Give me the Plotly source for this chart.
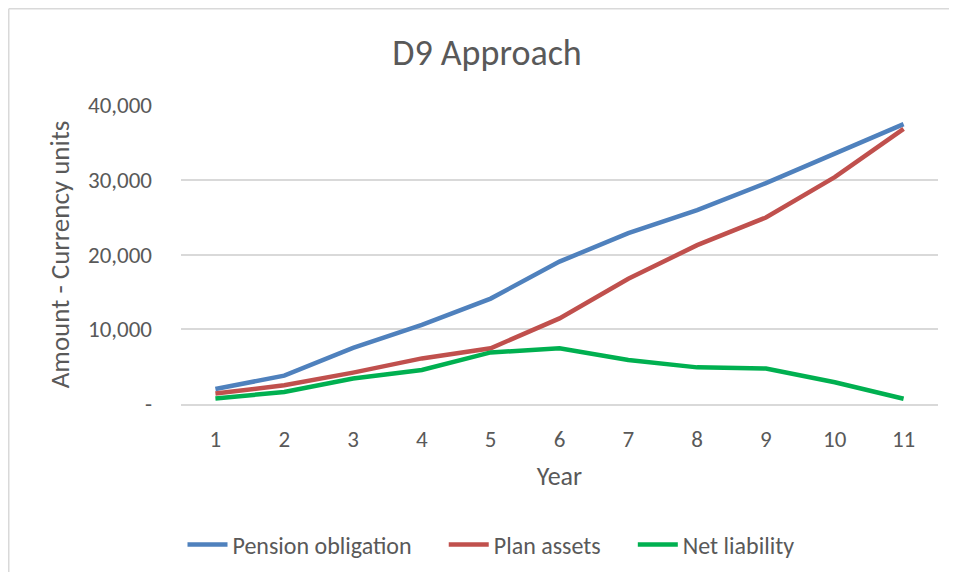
import plotly.graph_objects as go

# data
years = [1, 2, 3, 4, 5, 6, 7, 8, 9, 10, 11]
pension_obligation = [2000, 3800, 7500, 10600, 14100, 19050, 22850, 25950, 29550, 33550, 37450]
plan_assets = [1400, 2500, 4200, 6100, 7450, 11450, 16750, 21250, 24950, 30350, 36800]
net_liability = [750, 1600, 3400, 4550, 6900, 7450, 5900, 4900, 4750, 2900, 700]

y_ticks = [0, 10000, 20000, 30000, 40000]
y_tick_text = ["-", "10,000", "20,000", "30,000", "40,000"]

FONT = "Carlito, Calibri, Lato, sans-serif"
TEXT_COLOR = "#595959"
GRID_COLOR = "#d9d9d9"

# the page puts the figure 8px in from the top-left corner,
# so the figure is a bit smaller than the 957x580 window
W, H = 941, 564
L, R, T, B = 173, 11, 97, 168
plot_w = W - L - R
plot_h = H - T - B

fig = go.Figure()

NBSP = "\u00a0"
series = [
    ("Pension obligation" + NBSP * 5, pension_obligation, "#4f81bd"),
    ("Plan assets" + NBSP * 5, plan_assets, "#c0504d"),
    ("Net liability", net_liability, "#00b050"),
]
for name, values, color in series:
    fig.add_trace(go.Scatter(x=[str(y) for y in years], y=values, mode="lines", name=name,
                             line=dict(color=color, width=4.5)))

# thin grey frame of the chart: only top and left edges are visible
frame = dict(type="line", xref="paper", yref="paper", line=dict(color="#d9d9d9", width=1.5))
fig.add_shape(**frame, x0=(0.75 - L) / plot_w, x1=(W - L) / plot_w,
              y0=(H - 0.75 - B) / plot_h, y1=(H - 0.75 - B) / plot_h)
fig.add_shape(**frame, x0=(0.75 - L) / plot_w, x1=(0.75 - L) / plot_w,
              y0=(-B) / plot_h, y1=(H - 0.75 - B) / plot_h)

fig.update_layout(
    title=dict(text="D9 Approach", x=479 / W, xanchor="center", xref="container",
               y=1 - 44 / H, yanchor="middle", yref="container",
               font=dict(family=FONT, size=36, color=TEXT_COLOR)),
    width=W,
    height=H,
    margin=dict(l=L, r=R, t=T, b=B, pad=0),
    paper_bgcolor="white",
    plot_bgcolor="white",
    font=dict(family=FONT, color=TEXT_COLOR),
    showlegend=True,
    legend=dict(orientation="h", xref="container", x=483 / W, xanchor="center",
                yref="container", y=1 - 537 / H, yanchor="middle",
                font=dict(family=FONT, size=24, color=TEXT_COLOR),
                itemwidth=40, tracegroupgap=0),
    xaxis=dict(
        type="category",
        range=[-0.5, 10.5],
        showgrid=False,
        showline=True,
        linecolor=GRID_COLOR,
        linewidth=1.5,
        ticks="",
        tickfont=dict(family=FONT, size=23, color=TEXT_COLOR),
        ticklabelstandoff=14,
        title=dict(text="Year", font=dict(family=FONT, size=26, color=TEXT_COLOR), standoff=14),
    ),
    yaxis=dict(
        range=[0, 40000],
        tickvals=y_ticks,
        ticktext=y_tick_text,
        showgrid=True,
        gridcolor=GRID_COLOR,
        gridwidth=1.5,
        zeroline=False,
        showline=False,
        ticks="",
        tickfont=dict(family=FONT, size=23, color=TEXT_COLOR),
        ticklabelstandoff=28,
        title=dict(text="Amount - Currency units", font=dict(family=FONT, size=27, color=TEXT_COLOR),
                   standoff=10),
    ),
)

fig.write_html("out.html")
